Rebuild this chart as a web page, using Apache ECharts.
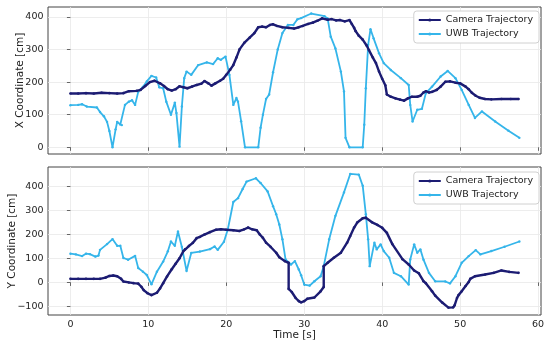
<!DOCTYPE html>
<html>
<head>
<meta charset="utf-8">
<script src="https://cdn.jsdelivr.net/npm/echarts@6/dist/echarts.min.js"></script>
<style>html,body{margin:0;padding:0;background:#fff}#c{width:550px;height:345px}</style>
</head>
<body>
<div id="c"></div>
<script>
// ---- Data ----
const timeTicks = [0, 10, 20, 30, 40, 50, 60];
const xCoordTicks = [0, 100, 200, 300, 400];
const yCoordTicks = [-100, 0, 100, 200, 300, 400];
const seriesNames = ['Camera Trajectory', 'UWB Trajectory'];

const camXTime = [0,1,2,3,4,5,6,6.8,7.5,8.5,9,9.6,10.2,10.8,11.5,12,12.5,13,13.5,14,14.5,15,15.6,16.2,16.8,17.2,17.7,18.1,18.6,19.2,19.6,20,20.5,20.9,21.3,21.7,22.3,23,23.6,24.1,24.6,25.1,25.6,26,26.5,27.2,28,28.7,29.3,29.8,30.5,31.1,31.7,32.3,33,33.5,34.1,34.6,35.2,35.8,36.1,36.4,36.6,37,37.5,38,38.3,38.8,39.2,39.6,40,40.4,40.6,41.1,41.7,42.3,42.8,43.3,43.8,44.5,44.9,45.3,45.6,46,46.4,47,47.5,48.1,48.7,49.4,50,50.7,51.1,51.5,52,52.5,53.2,54,55.3,56.5,57.5];
const camXVal  = [165,165,166,165,167,166,165,166,172,173,176,188,200,204,196,188,178,174,178,187,184,181,186,191,195,203,196,189,196,204,210,222,238,252,275,300,320,336,350,368,370,368,375,377,372,368,366,364,368,372,378,382,388,395,391,393,389,390,386,390,378,366,356,342,330,312,298,275,258,232,210,190,162,155,150,146,143,150,155,155,158,168,172,168,170,176,186,201,202,198,196,186,178,167,158,152,148,147,148,148,148];

const uwbXTime = [0,1,1.5,2.1,3.4,3.8,4.3,4.7,5.0,5.4,5.8,6.0,6.4,6.6,7.0,7.5,7.9,8.3,8.7,9.3,9.8,10.4,11.0,11.4,11.9,12.3,12.9,13.4,13.6,14.0,14.3,14.6,14.9,15.5,16.4,17.5,18.3,18.9,19.3,19.9,20.4,20.9,21.3,21.5,21.9,22.4,24.1,24.4,24.7,25.1,25.5,26.0,26.6,27.2,27.9,28.6,29.1,29.6,30.9,32.6,33.0,33.4,34.0,34.7,35.1,35.3,35.8,37.5,37.7,37.9,38.2,38.5,38.9,39.6,40.2,41.1,42.4,43.4,43.6,43.9,44.5,45.1,45.6,46.4,47.5,48.4,49.4,50.2,51.1,51.9,52.8,54.5,56.2,57.6];
const uwbXVal  = [129,130,132,125,122,108,95,78,50,0,55,78,70,68,130,140,144,130,170,185,202,219,214,184,181,140,100,137,105,2,125,212,232,222,252,260,255,273,268,278,222,130,151,140,80,0,0,60,100,148,162,230,300,350,375,375,392,396,410,402,395,339,303,232,171,29,0,0,69,181,314,362,334,288,258,237,212,191,130,79,115,118,166,186,217,234,212,176,130,90,110,79,51,29];

const camYTime = [0,1,2,3,3.8,4.5,5,5.5,6,6.5,6.8,7.5,8.1,8.7,9.1,9.4,9.9,10.4,11.1,11.5,11.9,12.4,13,13.5,14,14.5,14.7,15.2,15.7,16.2,16.6,17.2,17.9,18.7,19.3,20,20.9,21.7,22.3,22.8,23.3,23.9,24.3,24.7,25.1,25.7,26.4,26.8,27.5,28.0,28.0,28.4,28.9,29.3,29.6,30.0,30.4,31.3,32.1,32.5,32.5,33.0,33.8,34.7,35.5,35.9,36.4,36.8,37.5,37.9,38.7,39.4,40.0,40.6,41.3,42.6,43.4,44.1,44.7,45.3,45.6,46.4,46.8,47.7,48.5,49.1,49.3,49.6,49.8,50.2,50.7,51.1,51.3,51.9,53.2,54.3,55.3,56.3,57.5];
const camYVal  = [15,15,15,15,15,20,27,29,26,15,4,0,-3,-5,-18,-32,-45,-53,-43,-25,-3,25,55,78,101,131,138,152,165,185,190,200,210,220,222,220,218,215,222,229,222,218,200,186,166,148,124,105,89,82,-27,-40,-65,-78,-83,-78,-68,-63,-37,-19,68,82,103,124,166,194,229,250,268,270,251,240,228,207,160,97,75,50,38,5,-3,-37,-55,-84,-105,-104,-95,-65,-53,-37,-15,2,15,26,33,40,50,44,40];

const uwbYTime = [0,0.7,1.5,2.0,2.5,3.2,3.6,3.8,4.7,5.4,6.0,6.4,6.8,7.4,8.3,8.7,9.3,9.8,10.4,11.1,11.9,12.5,12.9,13.4,13.8,14.3,14.9,15.5,16.6,17.9,18.5,18.9,19.7,20.2,20.9,21.5,22.1,22.6,23.8,24.4,25.3,26.0,26.4,26.8,27.2,27.6,28.3,28.8,29.3,29.6,30.0,30.7,31.3,32.1,32.5,33.2,34.0,35.1,35.9,37.0,37.5,37.9,38.2,38.4,39.0,39.3,39.8,40.2,40.9,41.5,42.4,43.4,43.6,44.1,44.5,44.9,45.3,46.0,46.8,48.1,48.7,49.4,50.2,51.1,52.0,52.6,54.0,55.7,57.6];
const uwbYVal  = [120,117,110,120,118,108,112,136,160,181,153,153,102,95,111,60,45,31,-8,45,87,130,171,153,213,148,48,123,129,139,150,136,170,222,336,352,390,421,435,415,380,318,285,242,180,96,75,89,54,30,-9,-13,5,26,68,180,278,376,453,450,404,285,180,68,166,138,159,131,103,40,26,-9,96,159,124,138,95,40,5,4,-4,26,82,110,135,117,131,149,171];

// ---- Chart ----
const FONT = 'DejaVu Sans';
const CAM = '#1c1c73';
const UWB = '#35b5ea';
const zip = (t, v) => t.map((x, i) => [x, v[i]]);
const minusFmt = v => String(v).replace('-', '\u2212');

function xAxis(gridIndex, showLabels) {
  return {
    type: 'value', gridIndex, min: -2.875, max: 60.375,
    name: showLabels ? 'Time [s]' : '', nameLocation: 'middle', nameGap: 15, nameMoveOverlap: false,
    nameTextStyle: { fontFamily: FONT, fontSize: 10.5, color: '#222' },
    axisLine: { show: false },
    axisTick: { show: true, inside: false, length: 3.5, customValues: timeTicks, lineStyle: { color: '#444', width: 0.8 } },
    axisLabel: { show: showLabels, customValues: timeTicks, margin: 5, fontFamily: FONT, fontSize: 9.5, color: '#222', formatter: minusFmt },
    splitLine: { show: true, lineStyle: { color: '#e8e8e8', width: 0.8 } }
  };
}
function yAxis(gridIndex, name, min, max, ticks, gap) {
  return {
    type: 'value', gridIndex, min, max,
    name, nameLocation: 'middle', nameGap: gap, nameMoveOverlap: false,
    nameTextStyle: { fontFamily: FONT, fontSize: 10.5, color: '#222' },
    axisLine: { show: false },
    axisTick: { show: true, inside: false, length: 3.5, customValues: ticks, lineStyle: { color: '#444', width: 0.8 } },
    axisLabel: { customValues: ticks, margin: 4.5, fontFamily: FONT, fontSize: 9.5, color: '#222', formatter: minusFmt },
    splitLine: { show: true, lineStyle: { color: '#e8e8e8', width: 0.8 } }
  };
}
function line(name, xi, data, color, width, sym) {
  return {
    type: 'line', name, xAxisIndex: xi, yAxisIndex: xi, data,
    showSymbol: true, symbol: 'circle', symbolSize: sym,
    lineStyle: { color, width }, itemStyle: { color },
    animation: false, z: name === seriesNames[0] ? 3 : 2
  };
}
function legend(top) {
  return {
    right: 11, top, orient: 'vertical', align: 'left',
    data: seriesNames,
    itemWidth: 22, itemHeight: 4, itemGap: 4,
    backgroundColor: '#fff', borderColor: '#d0d0d0', borderWidth: 1, borderRadius: 3,
    padding: [4, 6, 4, 4],
    textStyle: { fontFamily: FONT, fontSize: 9.5, color: '#222' }
  };
}

const chart = echarts.init(document.getElementById('c'), null, { renderer: 'canvas' });
chart.setOption({
  animation: false,
  backgroundColor: '#fff',
  grid: [
    { left: 48, top: 7, width: 493, height: 147, containLabel: false, outerBoundsMode: 'none', show: true, borderColor: '#444', borderWidth: 1, backgroundColor: 'transparent' },
    { left: 48, top: 167, width: 493, height: 148, containLabel: false, outerBoundsMode: 'none', show: true, borderColor: '#444', borderWidth: 1, backgroundColor: 'transparent' }
  ],
  xAxis: [xAxis(0, false), xAxis(1, true)],
  yAxis: [
    yAxis(0, 'X Coordinate [cm]', -20.5, 430, xCoordTicks, 22),
    yAxis(1, 'Y Coordinate [cm]', -136, 482, yCoordTicks, 30)
  ],
  legend: [legend(11), legend(172)],
  series: [
    line(seriesNames[0], 0, zip(camXTime, camXVal), CAM, 2.4, 2.6),
    line(seriesNames[1], 0, zip(uwbXTime, uwbXVal), UWB, 1.8, 2.4),
    line(seriesNames[0], 1, zip(camYTime, camYVal), CAM, 2.4, 2.6),
    line(seriesNames[1], 1, zip(uwbYTime, uwbYVal), UWB, 1.8, 2.4)
  ]
});
</script>
</body>
</html>
